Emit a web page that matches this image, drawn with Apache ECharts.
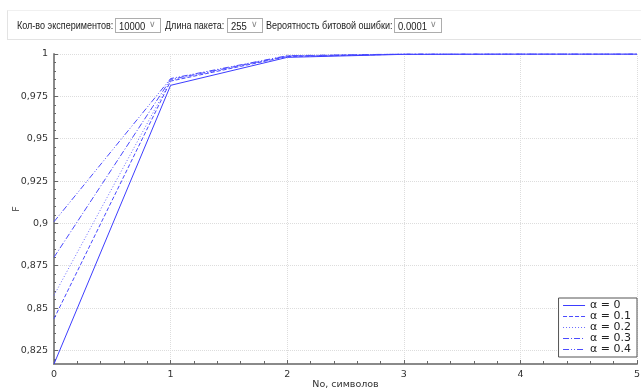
<!DOCTYPE html>
<html>
<head>
<meta charset="utf-8">
<script src="https://cdn.jsdelivr.net/npm/echarts@6/dist/echarts.min.js"></script>
<style>
html, body { margin: 0; padding: 0; background: #fff; }
#wrap { position: relative; width: 641px; height: 391px; overflow: hidden; }
#chart { position: absolute; left: 0; top: 0; width: 641px; height: 391px; }
.bar {
    position: absolute; left: 7px; top: 10px; right: 0; height: 28px;
    border-top: 1px solid #f0f0f0; border-bottom: 1px solid #e3e3e3; border-left: 1px solid #e3e3e3;
    font-family: "Liberation Sans", sans-serif; font-size: 10.5px; color: #222; z-index: 2;
}
.bar span { position: absolute; top: 8px; white-space: nowrap; transform: scaleX(0.86); transform-origin: left center; }
.box {
    position: absolute; top: 7px; height: 15px; border: 1px solid #adadad; background: #fff;
    box-sizing: border-box; padding: 1px 0 0 3px; white-space: nowrap;
}
.box b { font-weight: normal; display: inline-block; transform: scaleX(0.9); transform-origin: left; }
.box i { position: absolute; right: 4px; top: 0px; font-style: normal; color: #888; font-size: 9px; }
</style>
</head>
<body>
<div id="wrap">
    <div id="chart"></div>
    <div class="bar">
        <span style="left:9px">Кол-во экспериментов:</span>
        <div class="box" style="left:107px;width:46px"><b>10000</b><i>∨</i></div>
        <span style="left:157px">Длина пакета:</span>
        <div class="box" style="left:219px;width:36px"><b>255</b><i>∨</i></div>
        <span style="left:258px">Вероятность битовой ошибки:</span>
        <div class="box" style="left:386px;width:48px"><b>0.0001</b><i>∨</i></div>
    </div>
</div>
<script>
// данные
const xValues = [0, 1, 2, 3, 4, 5]
const names = ['α = 0', 'α = 0.1', 'α = 0.2', 'α = 0.3', 'α = 0.4']
const a0 = [0.817, 0.9815, 0.998, 0.9998, 1, 1]
const a1 = [0.8437, 0.984, 0.9985, 0.9999, 1, 1]
const a2 = [0.8575, 0.9845, 0.9987, 0.9999, 1, 1]
const a3 = [0.880, 0.985, 0.9988, 1, 1, 1]
const a4 = [0.901, 0.9855, 0.999, 1, 1, 1]
const yTicks = [0.825, 0.85, 0.875, 0.9, 0.925, 0.95, 0.975, 1]

const yMin = 0.817
const dashes = ['solid', [4, 2], [1, 2], [6, 2, 1, 2], [6, 2, 1, 2, 1, 2]]
const colors = ['#3d3dff', '#4a4aff', '#6a6aff', '#4a4aff', '#4a4aff']

const minorY = []
for (let v = 0.82; v <= 1.0001; v += 0.005) minorY.push(Math.round(v * 1000) / 1000)

const chart = echarts.init(document.getElementById('chart'))
const series = [a0, a1, a2, a3, a4].map((arr, i) => ({
    name: names[i],
    type: 'line',
    data: arr.map((v, k) => [xValues[k], v]),
    symbol: 'none',
    color: colors[i],
    lineStyle: { width: 1, type: dashes[i], color: colors[i] },
    z: 10 - i
}))

const fmt = v => String(v).replace('.', ',')

// сплошная линия для легенды
const solidIcon = 'path://M0,0H0.01V0.01H0Z M0,2H22V3H0Z M0,4.99H0.01V5H0Z'

chart.setOption({
    animation: false,
    textStyle: { fontFamily: 'DejaVu Sans' },
    grid: { left: 54, right: 4, top: 54, bottom: 27, outerBoundsMode: 'none' },
    legend: {
        orient: 'vertical',
        right: 4, bottom: 34,
        backgroundColor: '#fff',
        borderColor: '#555', borderWidth: 1, borderRadius: 0,
        padding: [2, 6, 2, 4],
        itemWidth: 22, itemHeight: 5, itemGap: 0,
        itemStyle: { opacity: 0 },
        textStyle: { fontSize: 11, lineHeight: 11, color: '#222', fontFamily: 'DejaVu Sans' },
        data: names.map((n, i) => i === 0 ? {
            name: n,
            icon: solidIcon,
            itemStyle: { color: colors[0], opacity: 1 }
        } : {
            name: n,
            lineStyle: { width: 1, color: colors[i], type: dashes[i] }
        })
    },
    xAxis: {
        type: 'value', min: 0, max: 5, interval: 1,
        name: 'No, символов', nameLocation: 'middle', nameGap: 16, nameMoveOverlap: false,
        nameTextStyle: { fontSize: 9.5, color: '#333' },
        axisLine: { lineStyle: { color: '#8a8a8a', width: 2 } },
        axisTick: { inside: true, length: 4, lineStyle: { color: '#666' } },
        minorTick: { show: true, splitNumber: 5, length: 3, lineStyle: { color: '#666' } },
        axisLabel: { fontSize: 9.5, color: '#333', margin: 6 },
        splitLine: { show: true, lineStyle: { color: '#ddd', type: 'dotted' } }
    },
    yAxis: [{
        type: 'value', min: yMin, max: 1,
        name: 'F', nameLocation: 'middle', nameGap: 32, nameMoveOverlap: false,
        nameTextStyle: { fontSize: 9.5, color: '#333' },
        axisLine: { show: true, lineStyle: { color: '#8a8a8a', width: 2 } },
        axisTick: { inside: true, length: 4, customValues: yTicks, lineStyle: { color: '#666' } },
        axisLabel: { fontSize: 9.5, color: '#333', margin: 6, customValues: yTicks, formatter: fmt },
        splitLine: { show: true, lineStyle: { color: '#ddd', type: 'dotted' } }
    }, {
        type: 'value', min: yMin, max: 1, position: 'left',
        axisLine: { show: false },
        axisTick: { show: true, inside: true, length: 2, customValues: minorY, lineStyle: { color: '#666' } },
        axisLabel: { show: false },
        splitLine: { show: false }
    }],
    series
})
</script>
</body>
</html>
